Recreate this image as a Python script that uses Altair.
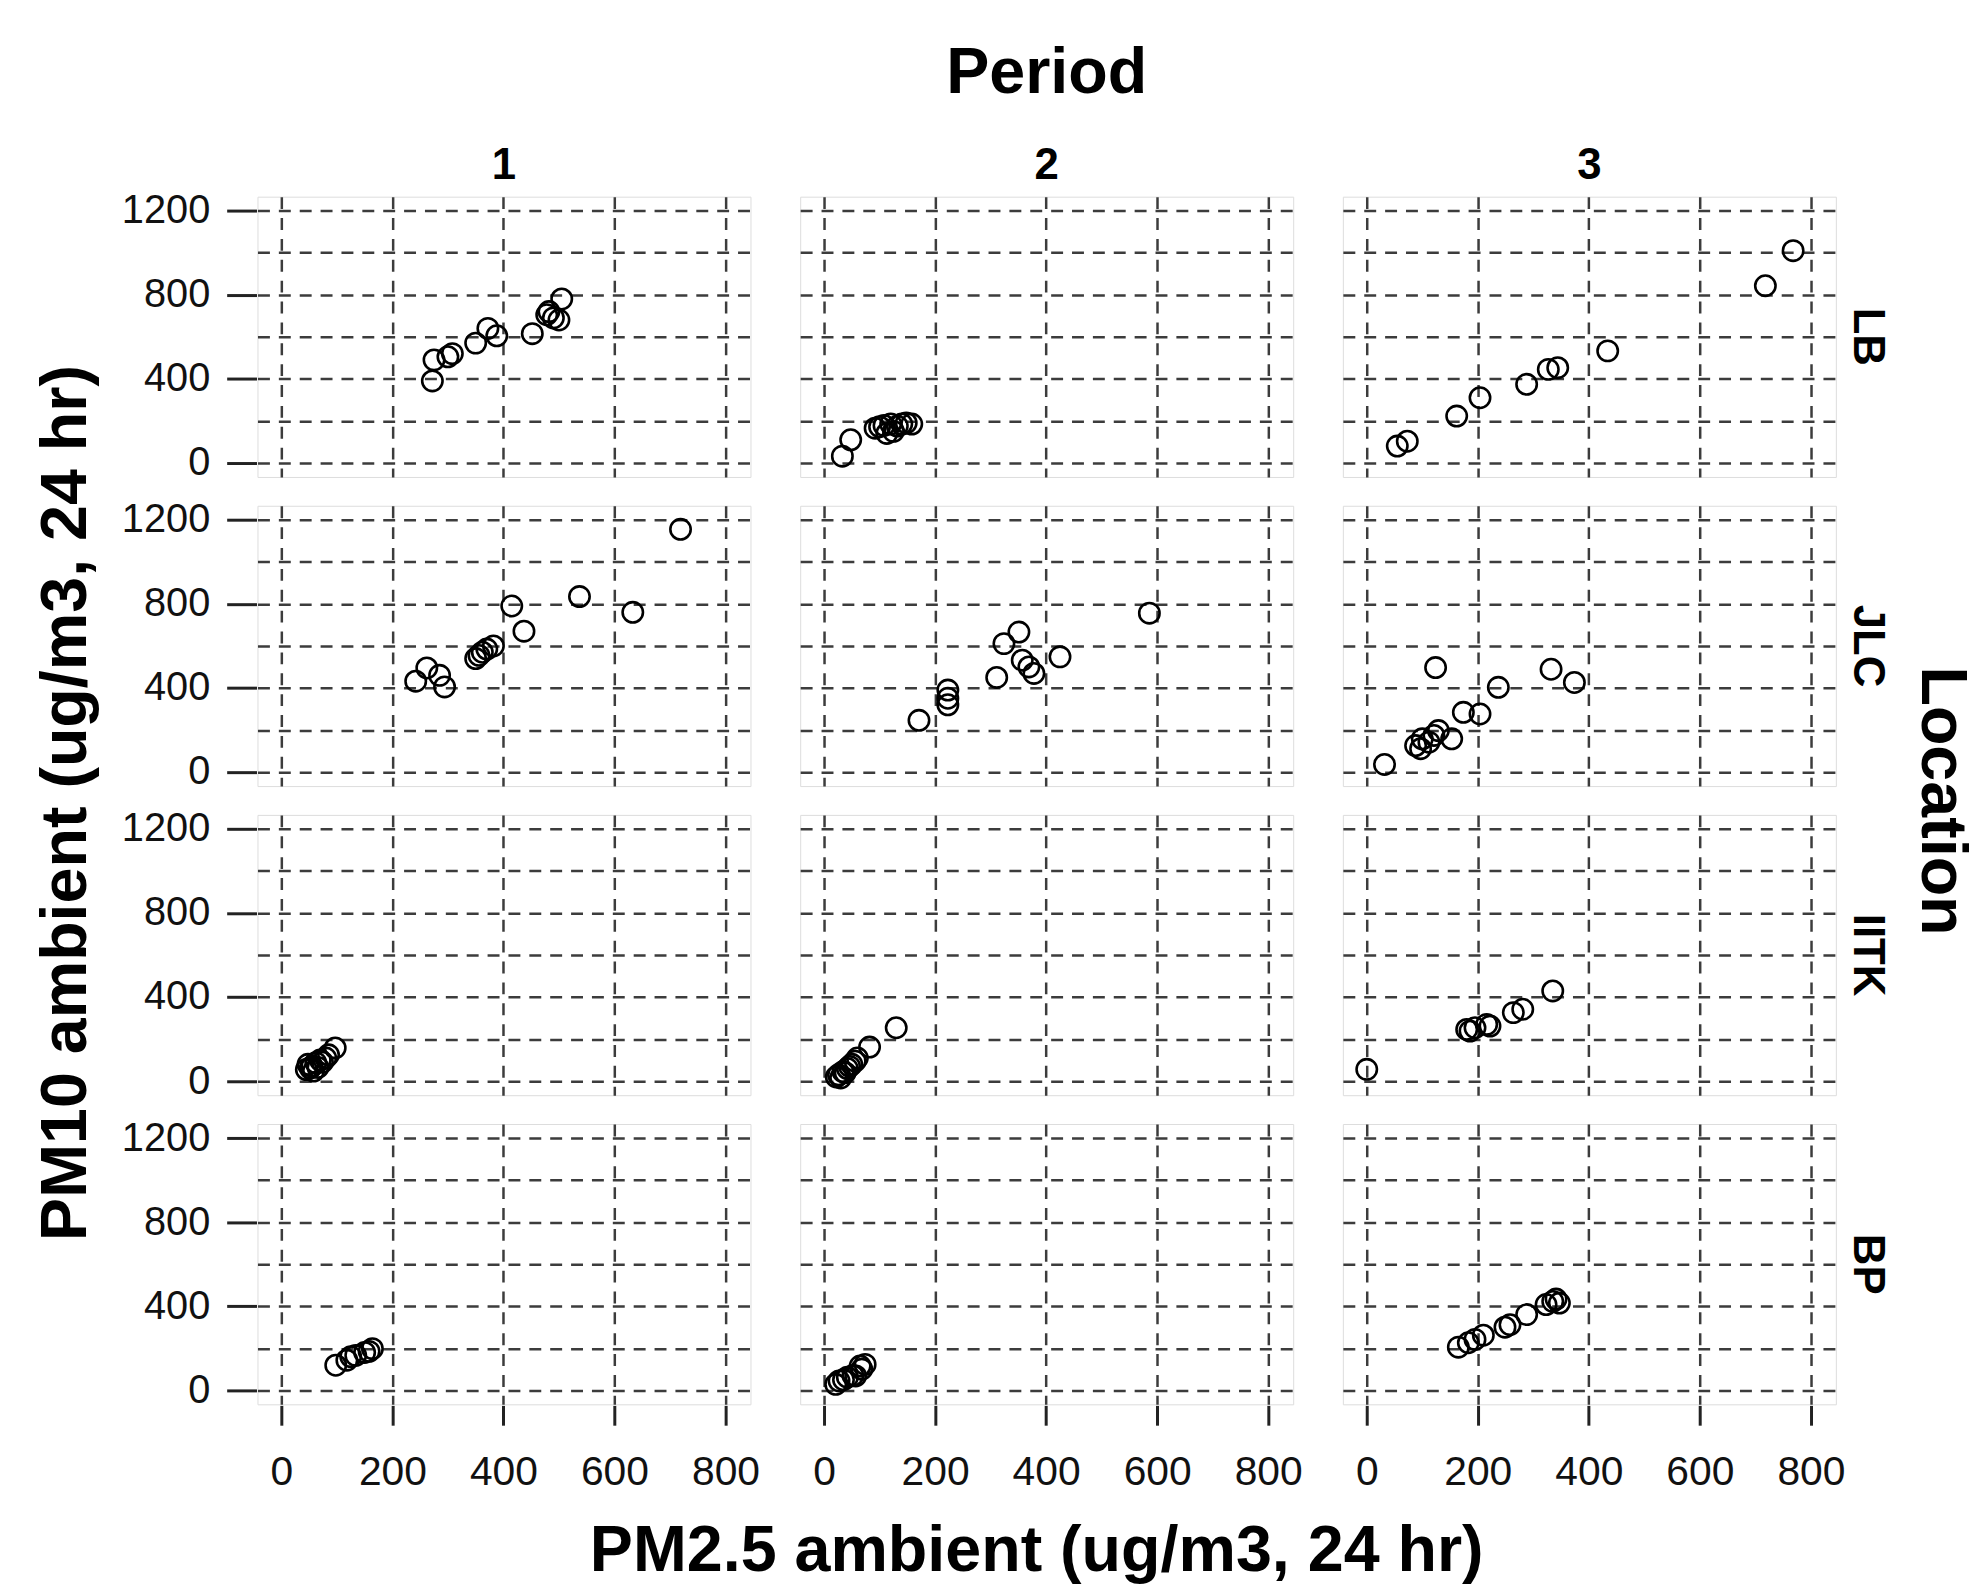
import altair as alt
import pandas as pd

# Category orders
periods = ["1", "2", "3"]
locations = ["LB", "JLC", "IITK", "BP"]

# PM2.5 (x) and PM10 (y) per Location / Period panel
LB1_x = [272, 275, 300, 308, 350, 372, 388, 452, 478, 482, 490, 500, 505]
LB1_y = [390, 490, 505, 520, 570, 640, 605, 615, 705, 720, 690, 680, 780]
LB2_x = [33, 48, 92, 100, 108, 113, 120, 125, 132, 140, 148, 158]
LB2_y = [32, 110, 165, 172, 178, 140, 185, 150, 175, 185, 190, 185]
LB3_x = [55, 73, 162, 204, 288, 327, 344, 434, 718, 768]
LB3_y = [80, 103, 223, 310, 374, 445, 453, 533, 843, 1010]

JLC1_x = [242, 262, 285, 294, 350, 356, 362, 370, 382, 415, 437, 537, 633, 719]
JLC1_y = [432, 495, 460, 405, 540, 555, 570, 585, 600, 790, 670, 835, 760, 1155]
JLC2_x = [171, 223, 223, 223, 311, 324, 351, 357, 369, 378, 425, 586]
JLC2_y = [246, 390, 351, 320, 450, 611, 666, 532, 500, 469, 548, 756]
JLC3_x = [32, 88, 97, 100, 112, 121, 129, 153, 124, 174, 204, 237, 332, 374]
JLC3_y = [36, 126, 111, 158, 142, 174, 197, 158, 497, 284, 276, 403, 489, 426]

IITK1_x = [45, 48, 52, 55, 58, 62, 66, 70, 74, 80, 85, 97]
IITK1_y = [55, 80, 62, 70, 48, 88, 65, 100, 90, 110, 125, 158]
IITK2_x = [22, 26, 30, 34, 38, 42, 46, 50, 56, 60, 82, 130]
IITK2_y = [20, 30, 15, 45, 40, 60, 70, 80, 95, 110, 162, 254]
IITK3_x = [0, 180, 186, 195, 216, 222, 264, 281, 335]
IITK3_y = [56, 246, 238, 254, 270, 262, 326, 342, 429]

BP1_x = [98, 118, 125, 134, 150, 158, 164]
BP1_y = [119, 143, 160, 166, 180, 185, 198]
BP2_x = [21, 27, 35, 42, 52, 57, 65, 68, 74]
BP2_y = [28, 44, 50, 62, 70, 68, 115, 100, 123]
BP3_x = [165, 183, 195, 210, 249, 258, 288, 323, 335, 341, 347]
BP3_y = [205, 226, 242, 262, 300, 312, 360, 408, 423, 434, 415]

x_ticks = [0, 200, 400, 600, 800]
y_ticks = [0, 200, 400, 600, 800, 1000, 1200]

panels = {
    ("LB", "1"): (LB1_x, LB1_y), ("LB", "2"): (LB2_x, LB2_y), ("LB", "3"): (LB3_x, LB3_y),
    ("JLC", "1"): (JLC1_x, JLC1_y), ("JLC", "2"): (JLC2_x, JLC2_y), ("JLC", "3"): (JLC3_x, JLC3_y),
    ("IITK", "1"): (IITK1_x, IITK1_y), ("IITK", "2"): (IITK2_x, IITK2_y), ("IITK", "3"): (IITK3_x, IITK3_y),
    ("BP", "1"): (BP1_x, BP1_y), ("BP", "2"): (BP2_x, BP2_y), ("BP", "3"): (BP3_x, BP3_y),
}

rows = []
for (loc, per), (xs, ys) in panels.items():
    for a, b in zip(xs, ys):
        rows.append({"Location": loc, "Period": per, "pm25": a, "pm10": b})
df = pd.DataFrame(rows)

FONT = "Liberation Sans"
GRID = "#3c3c3c"

base = alt.Chart(df).mark_point(
    shape="circle", filled=False, color="black", size=420, strokeWidth=2.6, opacity=1
).encode(
    x=alt.X(
        "pm25:Q",
        title=None,
        scale=alt.Scale(domain=[-43, 845], nice=False, zero=False),
        axis=alt.Axis(
            values=x_ticks, format="d", grid=True, gridDash=[12, 9], gridColor=GRID, gridWidth=2.5,
            tickSize=20, tickWidth=3, tickColor="#222222", domain=False,
            labelFontSize=41, labelFont=FONT, labelColor="#111111", labelPadding=28,
            labelFlush=False, labelOverlap=False,
        ),
    ),
    y=alt.Y(
        "pm10:Q",
        title=None,
        scale=alt.Scale(domain=[-67, 1267], nice=False, zero=False),
        axis=alt.Axis(
            values=y_ticks, format="d", grid=True, gridDash=[12, 9], gridColor=GRID, gridWidth=2.5,
            tickSize=30, tickWidth=3, tickColor="#222222", domain=False,
            tickOpacity={"condition": {"test": "datum.value % 400 === 0", "value": 1}, "value": 0},
            labelExpr="datum.value % 400 === 0 ? datum.label : ''",
            labelFontSize=40, labelFont=FONT, labelColor="#111111", labelPadding=17,
            labelFlush=False, labelOverlap=False,
        ),
    ),
).properties(width=496, height=282)

inner = base.facet(
    column=alt.Column(
        "Period:N", sort=periods, title="Period",
        header=alt.Header(
            labelFontSize=44, labelFont=FONT, labelFontWeight="bold", labelColor="black",
            labelPadding=8, titleFontSize=65, titleFont=FONT, titleFontWeight="bold",
            titleColor="black", titlePadding=27,
        ),
    ),
    row=alt.Row(
        "Location:N", sort=locations, title="Location",
        header=alt.Header(
            labelOrient="right", titleOrient="right", labelAngle=90, titleAngle=90,
            labelFontSize=44, labelFont=FONT, labelFontWeight="bold", labelColor="black",
            labelPadding=8, titleFontSize=65, titleFont=FONT, titleFontWeight="bold",
            titleColor="black", titlePadding=10,
        ),
    ),
    spacing={"row": 27, "column": 48},
    title=alt.TitleParams(
        "PM2.5 ambient (ug/m3, 24 hr)", orient="bottom", anchor="middle",
        fontSize=65, font=FONT, fontWeight="bold", color="black", offset=28, dx=-11,
    ),
)

chart = alt.hconcat(
    inner,
    title=alt.TitleParams(
        "PM10 ambient (ug/m3, 24 hr)", orient="left", anchor="middle",
        fontSize=65, font=FONT, fontWeight="bold", color="black", offset=22, dx=10,
    ),
).properties(
    padding={"left": 26, "top": 29, "right": 6, "bottom": 0}
).configure_view(
    fill="#f0f0f0", stroke="#222222", strokeWidth=2
).configure(background="white")

chart.save("out.html", embed_options={"renderer": "svg", "actions": False})
